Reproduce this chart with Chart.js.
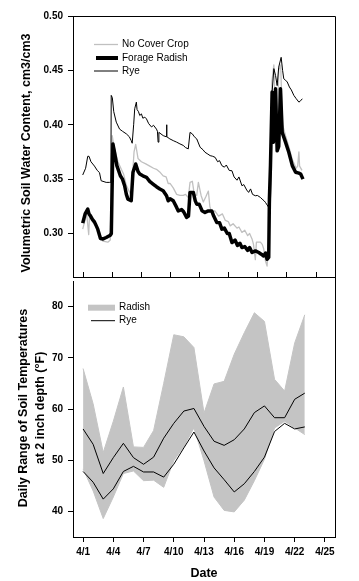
<!DOCTYPE html>
<html>
<head>
<meta charset="utf-8">
<script src="https://cdn.jsdelivr.net/npm/chart.js@4.4.0/dist/chart.umd.min.js"></script>
<style>
  html, body { margin: 0; padding: 0; background: #fff; }
  #wrap { position: relative; width: 359px; height: 581px; }
  canvas { position: absolute; left: 0; }
  #waterChart { top: 0; }
  #tempChart { top: 270px; }
</style>
</head>
<body>
<div id="wrap">
  <canvas id="waterChart" width="359" height="290"></canvas>
  <canvas id="tempChart" width="359" height="311"></canvas>
</div>
<script>
// data: [day of April, cm3/cm3]
const noCoverWater = [
  [1.0,0.304],[1.41,0.318],[1.62,0.299],[1.7,0.316],[2.0,0.311],[2.4,0.306],[2.73,0.301],[3.07,0.293],
  [3.59,0.292],[3.84,0.294],[4.04,0.390],[4.2,0.381],[4.63,0.366],[4.98,0.359],[5.2,0.355],[5.5,0.344],
  [6.0,0.335],[6.29,0.375],[6.46,0.382],[6.7,0.369],[7.05,0.366],[7.5,0.364],[7.91,0.362],[8.3,0.360],
  [8.6,0.359],[9.0,0.356],[9.29,0.353],[9.6,0.352],[9.81,0.346],[10.0,0.346],[10.33,0.342],[10.68,0.336],
  [11.02,0.335],[11.36,0.335],[11.6,0.336],[11.88,0.333],[12.06,0.347],[12.3,0.348],[12.5,0.336],[12.75,0.335],
  [12.92,0.347],[13.2,0.335],[13.43,0.329],[13.7,0.334],[13.95,0.339],[14.1,0.325],[14.3,0.319],[14.6,0.321],
  [15.0,0.316],[15.4,0.318],[15.7,0.312],[16.0,0.311],[16.2,0.307],[16.5,0.309],[16.9,0.305],[17.1,0.306],
  [17.41,0.301],[17.7,0.303],[18.0,0.298],[18.2,0.300],[18.45,0.295],[18.6,0.290],[18.79,0.276],[18.9,0.292],
  [19.31,0.292],[19.5,0.290],[19.65,0.286],[19.83,0.275],[20.0,0.270],[20.2,0.300],[20.35,0.380],[20.5,0.440],
  [20.7,0.455],[20.9,0.400],[21.0,0.380],[21.2,0.450],[21.4,0.455],[21.6,0.400],[21.9,0.390],[22.3,0.378],
  [22.6,0.368],[23.0,0.360],[23.15,0.362],[23.28,0.375],[23.35,0.362],[23.6,0.358]
];
const radishWater = [
  [1.0,0.3095],[1.25,0.318],[1.52,0.3224],[1.65,0.318],[1.8,0.3162],[2.0,0.313],[2.21,0.3107],[2.4,0.307],
  [2.55,0.304],[2.83,0.2954],[3.1,0.295],[3.42,0.2963],[3.84,0.2984],[3.95,0.300],[4.11,0.3824],[4.25,0.376],
  [4.52,0.3624],[4.88,0.3531],[5.1,0.350],[5.32,0.3439],[5.5,0.336],[5.66,0.3316],[6.0,0.3301],[6.18,0.3563],
  [6.46,0.3639],[6.7,0.357],[6.88,0.3547],[7.2,0.353],[7.57,0.3517],[7.9,0.348],[8.25,0.3455],[8.6,0.343],
  [8.95,0.3409],[9.29,0.3393],[9.64,0.3347],[9.81,0.3301],[10.0,0.332],[10.33,0.3301],[10.68,0.324],[10.85,0.3208],
  [11.2,0.322],[11.4,0.320],[11.71,0.3148],[11.9,0.316],[12.06,0.3378],[12.4,0.3378],[12.6,0.330],[12.75,0.327],
  [13.0,0.327],[13.3,0.321],[13.6,0.3194],[13.95,0.3208],[14.3,0.3208],[14.5,0.316],[14.82,0.3101],[15.1,0.310],
  [15.34,0.304],[15.6,0.305],[15.9,0.300],[16.1,0.300],[16.38,0.2917],[16.7,0.294],[16.95,0.289],[17.2,0.291],
  [17.41,0.2871],[17.7,0.288],[18.0,0.2845],[18.2,0.287],[18.45,0.2825],[18.8,0.284],[19.14,0.2825],[19.4,0.281],
  [19.65,0.2793],[19.85,0.282],[20.0,0.2763],[20.17,0.278],[20.24,0.3316],[20.35,0.3624],[20.52,0.430],[20.65,0.384],
  [20.87,0.433],[21.04,0.376],[21.2,0.380],[21.38,0.433],[21.56,0.393],[21.9,0.384],[22.24,0.3747],[22.6,0.3624],
  [22.94,0.3563],[23.28,0.3555],[23.46,0.3547],[23.7,0.350]
];
const ryeWater = [
  [1.0,0.3538],[1.3,0.360],[1.52,0.371],[1.65,0.371],[1.85,0.366],[2.21,0.362],[2.5,0.358],[2.73,0.356],
  [2.9,0.3485],[3.42,0.347],[3.77,0.347],[3.9,0.347],[3.94,0.427],[4.05,0.425],[4.2,0.412],[4.46,0.4024],
  [4.8,0.396],[5.1,0.394],[5.5,0.3916],[5.8,0.389],[6.0,0.3854],[6.1,0.383],[6.25,0.400],[6.36,0.4147],
  [6.53,0.4208],[6.6,0.414],[6.75,0.412],[6.88,0.4085],[7.05,0.410],[7.2,0.406],[7.4,0.407],[7.57,0.4054],
  [7.8,0.401],[8.09,0.398],[8.3,0.3995],[8.6,0.396],[8.7,0.394],[8.77,0.384],[8.85,0.393],[9.3,0.390],
  [9.6,0.389],[9.64,0.400],[9.68,0.389],[9.98,0.387],[10.33,0.3854],[10.68,0.384],[11.02,0.3824],[11.36,0.381],
  [11.6,0.379],[11.88,0.3778],[12.06,0.393],[12.3,0.3916],[12.5,0.389],[12.75,0.387],[13.1,0.3793],[13.4,0.377],
  [13.6,0.3747],[13.9,0.373],[14.13,0.3716],[14.4,0.371],[14.65,0.370],[14.9,0.366],[15.1,0.367],[15.34,0.3624],
  [15.6,0.361],[15.8,0.363],[16.1,0.358],[16.38,0.3577],[16.6,0.352],[16.9,0.349],[17.1,0.352],[17.41,0.3439],
  [17.6,0.345],[17.9,0.340],[18.1,0.3378],[18.3,0.341],[18.5,0.336],[18.79,0.3347],[19.0,0.335],[19.31,0.3332],
  [19.49,0.3316],[19.7,0.330],[19.83,0.3286],[20.17,0.324],[20.35,0.3255],[20.52,0.430],[20.7,0.4516],[20.87,0.4454],
  [21.04,0.436],[21.2,0.453],[21.45,0.462],[21.6,0.450],[21.72,0.4423],[21.9,0.441],[22.08,0.4393],[22.3,0.4347],
  [22.5,0.432],[22.76,0.427],[23.0,0.424],[23.28,0.4208],[23.45,0.422],[23.63,0.4239]
];

// daily soil temperature range (°F), 4/1 .. 4/23
const tempDays = [1,2,3,4,5,6,7,8,9,10,11,12,13,14,15,16,17,18,19,20,21,22,23];
const radishHigh = [67.9,61,51.5,57.6,64.3,52.6,52.5,55.8,65,74.5,74.1,72,59.2,64.9,65.4,70.7,74.9,78.8,77.1,65.8,63.5,72.9,78.4];
const radishLow = [48.3,44,38.6,42.8,47.4,47.9,46,46.1,44.7,49.9,52.7,56.3,49.9,42.8,40.2,39.9,42.2,46,50.2,56.3,57.6,56.3,55];
const ryeHigh = [56.1,53.1,47.4,50.5,53.3,50.5,49.2,50.6,54.3,57.2,59.6,60.1,56.6,53.7,52.9,54,56.1,59.3,60.6,58.3,58.3,61.9,63.1];
const ryeLow = [47.8,45.7,42.4,44.4,47.8,48.8,47.7,47.7,46.7,49.2,52.4,55.5,51.8,48.5,46.2,43.8,45.4,47.8,50.6,55.6,57.2,56.1,56.5];

const dateTicks = [1,4,7,10,13,16,19,22,25];
const waterTicks = [0.30,0.35,0.40,0.45,0.50];
const tempTicks = [40,50,60,70,80];

const FONT = "'Liberation Sans', Arial, sans-serif";
const tickFont = {family: FONT, size: 10, weight: 'bold'};

function pts(arr) { return arr.map(p => ({x: p[0], y: p[1]})); }
function dayPts(vals) { return vals.map((v, i) => ({x: tempDays[i], y: v})); }

function drawYTitle(ctx, lines, x, y, gap) {
  ctx.save();
  ctx.translate(x, y);
  ctx.rotate(-Math.PI / 2);
  ctx.font = 'bold 12.5px ' + FONT;
  ctx.fillStyle = '#000';
  ctx.textAlign = 'center';
  ctx.textBaseline = 'middle';
  lines.forEach((t, i) => ctx.fillText(t, 0, i * gap));
  ctx.restore();
}

function legendRow(ctx, x1, x2, y, color, width, label) {
  ctx.strokeStyle = color;
  ctx.lineWidth = width;
  ctx.beginPath();
  ctx.moveTo(x1, y);
  ctx.lineTo(x2, y);
  ctx.stroke();
  ctx.fillStyle = '#000';
  ctx.fillText(label, x2 + 4, y);
}

const waterExtras = {
  id: 'waterExtras',
  afterDraw(chart) {
    const {ctx, chartArea: a, scales} = chart;
    ctx.save();
    ctx.strokeStyle = '#000';
    ctx.lineWidth = 1;
    ctx.beginPath();
    ctx.moveTo(a.left, a.top + 0.5);
    ctx.lineTo(a.right + 0.5, a.top + 0.5);
    ctx.lineTo(a.right + 0.5, chart.height);
    ctx.stroke();
    // inward ticks on the date line
    dateTicks.forEach(d => {
      const px = Math.round(scales.x.getPixelForValue(d)) + 0.5;
      ctx.beginPath();
      ctx.moveTo(px, a.bottom);
      ctx.lineTo(px, a.bottom - 5);
      ctx.stroke();
    });
    ctx.font = '10px ' + FONT;
    ctx.textBaseline = 'middle';
    ctx.lineCap = 'butt';
    legendRow(ctx, 94, 118, 44.5, '#c0c0c0', 1.3, 'No Cover Crop');
    legendRow(ctx, 96, 118, 58, '#000', 4, 'Forage Radish');
    legendRow(ctx, 94, 118, 71, '#000', 1, 'Rye');
    ctx.restore();
    drawYTitle(ctx, ['Volumetric Soil Water Content, cm3/cm3'], 27, 153, 0);
  }
};

const tempExtras = {
  id: 'tempExtras',
  afterDraw(chart) {
    const {ctx, chartArea: a} = chart;
    ctx.save();
    ctx.strokeStyle = '#000';
    ctx.lineWidth = 1;
    ctx.beginPath();
    ctx.moveTo(a.right + 0.5, 0);
    ctx.lineTo(a.right + 0.5, a.bottom);
    ctx.stroke();
    ctx.font = '10px ' + FONT;
    ctx.textBaseline = 'middle';
    legendRow(ctx, 88, 115, 37.7, '#c4c4c4', 6, 'Radish');
    legendRow(ctx, 91, 115, 50.7, '#000', 1, 'Rye');
    ctx.font = 'bold 12.5px ' + FONT;
    ctx.textAlign = 'center';
    ctx.fillText('Date', (a.left + a.right) / 2, 304);
    ctx.restore();
    drawYTitle(ctx, ['Daily Range of Soil Temperatures', 'at 2 inch depth (°F)'], 23.5, 138, 16.7);
  }
};

new Chart(document.getElementById('waterChart'), {
  type: 'line',
  data: {
    datasets: [
      {label: 'Rye', data: pts(ryeWater), borderColor: '#000', borderWidth: 1},
      {label: 'Forage Radish', data: pts(radishWater), borderColor: '#000', borderWidth: 3.5},
      {label: 'No Cover Crop', data: pts(noCoverWater), borderColor: '#c0c0c0', borderWidth: 1.3}
    ]
  },
  options: {
    responsive: false,
    animation: false,
    devicePixelRatio: 1,
    layout: {padding: {left: 0, top: 16, right: 24, bottom: 0}},
    elements: {point: {radius: 0}, line: {tension: 0, borderJoinStyle: 'round'}},
    plugins: {legend: {display: false}, tooltip: {enabled: false}},
    scales: {
      x: {
        type: 'linear', min: 0, max: 27,
        grid: {display: false},
        border: {color: '#000', width: 1},
        ticks: {display: false},
        afterFit: s => { s.height = 13; }
      },
      y: {
        min: 0.26, max: 0.50,
        afterBuildTicks: s => { s.ticks = waterTicks.map(v => ({value: v})); },
        grid: {drawOnChartArea: false, tickLength: 5, tickColor: '#000'},
        border: {color: '#000', width: 1},
        ticks: {color: '#000', font: tickFont, padding: 5, callback: v => v.toFixed(2)},
        afterFit: s => { s.width = 73; }
      }
    }
  },
  plugins: [waterExtras]
});

new Chart(document.getElementById('tempChart'), {
  type: 'line',
  data: {
    datasets: [
      {label: 'Rye', data: dayPts(ryeHigh), borderColor: '#000', borderWidth: 1},
      {label: 'Rye min', data: dayPts(ryeLow), borderColor: '#000', borderWidth: 1},
      {label: 'Radish', data: dayPts(radishHigh), borderColor: '#c4c4c4', backgroundColor: '#c4c4c4', borderWidth: 1, fill: '+1'},
      {label: 'Radish min', data: dayPts(radishLow), borderColor: '#c4c4c4', borderWidth: 1}
    ]
  },
  options: {
    responsive: false,
    animation: false,
    devicePixelRatio: 1,
    layout: {padding: {left: 0, top: 7, right: 24, bottom: 0}},
    elements: {point: {radius: 0}, line: {tension: 0}},
    plugins: {legend: {display: false}, tooltip: {enabled: false}},
    scales: {
      x: {
        type: 'linear', min: 0, max: 26,
        afterBuildTicks: s => { s.ticks = dateTicks.map(v => ({value: v})); },
        grid: {drawOnChartArea: false, tickLength: 5, tickColor: '#000'},
        border: {color: '#000', width: 1},
        ticks: {color: '#000', font: tickFont, padding: 4, maxRotation: 0, autoSkip: false, callback: v => '4/' + v},
        afterFit: s => { s.height = 44; }
      },
      y: {
        min: 35, max: 85,
        afterBuildTicks: s => { s.ticks = tempTicks.map(v => ({value: v})); },
        grid: {drawOnChartArea: false, tickLength: 5, tickColor: '#000'},
        border: {color: '#000', width: 1},
        ticks: {color: '#000', font: tickFont, padding: 5},
        afterFit: s => { s.width = 73; }
      }
    }
  },
  plugins: [tempExtras]
});
</script>
</body>
</html>
